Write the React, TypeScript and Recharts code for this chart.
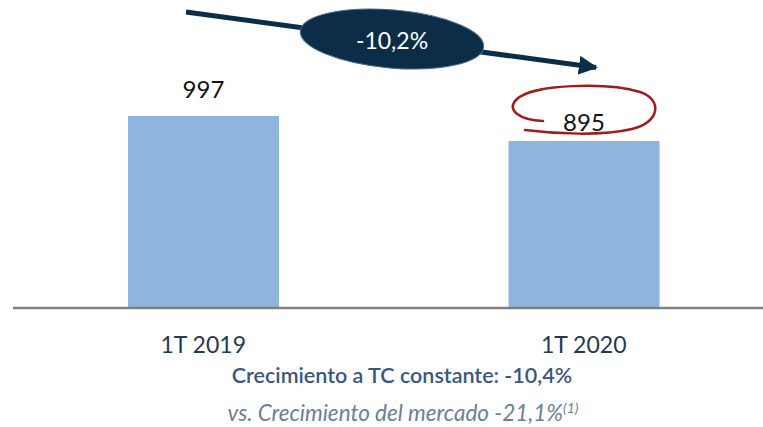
import { BarChart, Bar, XAxis, YAxis, LabelList } from 'recharts'

const periods = ['1T 2019', '1T 2020']
const salesValues = [997, 895]
const growthLabel = '-10,2%'
const constantFxLine = 'Crecimiento a TC constante: -10,4%'
const marketLine = 'vs. Crecimiento del mercado -21,1%'

const data = periods.map((p, i) => ({ period: p, value: salesValues[i] }))

const FONT = 'Lato, "Open Sans", sans-serif'
const NAVY = '#0c2d48'

// label distance above each bar top (px)
const labelGap = [27, 19]

function ValueLabel(props: any) {
  const { x, y, width, value, index } = props
  return (
    <text
      x={x + width / 2}
      y={y - labelGap[index]}
      textAnchor="middle"
      dominantBaseline="central"
      fontFamily={FONT}
      fontSize={24}
      fill="#111"
    >
      {value}
    </text>
  )
}

function PeriodTick(props: any) {
  const { x, y, payload } = props
  return (
    <text x={x} y={y} dy={37} textAnchor="middle" fontFamily={FONT} fontSize={23} fill="#1f3a55">
      {payload.value}
    </text>
  )
}

export default function App() {
  return (
    <div style={{ position: 'absolute', left: 0, top: 0, width: 763, height: 427, background: '#fff', overflow: 'hidden' }}>
      <BarChart
        width={763}
        height={427}
        data={data}
        margin={{ top: 21, right: -11, bottom: 0, left: 13 }}
        barCategoryGap={0}
      >
        <XAxis
          dataKey="period"
          height={119}
          tickLine={false}
          axisLine={{ stroke: '#808080', strokeWidth: 2.5 }}
          tick={<PeriodTick />}
          interval={0}
        />
        <YAxis hide domain={[214, 1384]} allowDataOverflow />
        <Bar dataKey="value" fill="#8fb4de" barSize={151} isAnimationActive={false}>
          <LabelList dataKey="value" content={<ValueLabel />} />
        </Bar>
      </BarChart>

      <svg
        width={763}
        height={427}
        style={{ position: 'absolute', left: 0, top: 0, pointerEvents: 'none' }}
      >
        <defs>
          <marker id="head" viewBox="0 0 10 10" refX="9" refY="5" markerWidth="3.8" markerHeight="3.8" orient="auto">
            <path d="M0,0 L10,5 L0,10 z" fill={NAVY} />
          </marker>
        </defs>
        <line x1={186} y1={12} x2={596} y2={67.5} stroke={NAVY} strokeWidth={5} markerEnd="url(#head)" />
        <ellipse
          cx={392}
          cy={39}
          rx={92}
          ry={29}
          fill={NAVY}
          stroke="#4a6a8c"
          strokeWidth={1}
          transform="rotate(5 392 39)"
        />
        <text x={392} y={40} textAnchor="middle" dominantBaseline="central" fontFamily={FONT} fontSize={23} fill="#fff">
          {growthLabel}
        </text>

        <path
          d="M543,121 C520,120 505,110 517,99 C532,84 608,82 640,92 C662,99 661,122 632,129 C602,136 556,134 525,130"
          fill="none"
          stroke="#a01c1c"
          strokeWidth={2.5}
          strokeLinecap="round"
        />

        <text x={402} y={383} textAnchor="middle" fontFamily={FONT} fontSize={21.5} fontWeight={600} fill="#3a5683">
          {constantFxLine}
        </text>
        <text x={403} y={421} textAnchor="middle" fontFamily={FONT} fontSize={22.5} fontStyle="italic" fill="#6a7f9c">
          {marketLine}
          <tspan fontSize={14} dy={-8}>(1)</tspan>
        </text>
      </svg>
    </div>
  )
}
